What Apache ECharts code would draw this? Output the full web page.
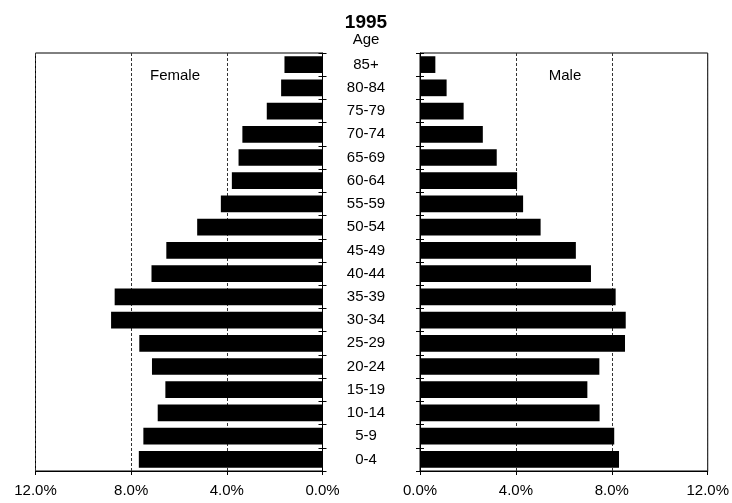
<!DOCTYPE html>
<html>
<head>
<meta charset="utf-8">
<script src="https://cdn.jsdelivr.net/npm/echarts@6/dist/echarts.min.js"></script>
<style>
html,body{margin:0;padding:0;background:#fff;}
#chart{width:732px;height:503px;}
</style>
</head>
<body>
<div id="chart"></div>
<script>
const year = '1995';
const ageGroups = ['0-4','5-9','10-14','15-19','20-24','25-29','30-34','35-39','40-44','45-49','50-54','55-59','60-64','65-69','70-74','75-79','80-84','85+'];
const female = [7.68,7.49,6.89,6.57,7.13,7.66,8.84,8.69,7.15,6.53,5.24,4.25,3.79,3.51,3.35,2.33,1.73,1.59];
const male   = [8.30,8.10,7.49,6.98,7.48,8.55,8.58,8.16,7.13,6.50,5.03,4.30,4.05,3.20,2.62,1.82,1.11,0.64];
const xTicks = [0,4,8,12];

const FONT = 'Liberation Sans, Arial, sans-serif';
const chart = echarts.init(document.getElementById('chart'));

function xAxisCfg(gridIndex, inverse){
  return {
    type:'value', gridIndex, inverse, min:xTicks[0], max:xTicks[xTicks.length-1],
    interval:xTicks[1]-xTicks[0],
    axisLine:{show:true,lineStyle:{color:'#000',width:1}},
    axisTick:{show:true,length:4,lineStyle:{color:'#000'}},
    axisLabel:{color:'#000',fontSize:15,fontFamily:FONT,margin:12,
      formatter:v=>v.toFixed(1)+'%'},
    splitLine:{show:true,lineStyle:{color:'#333',type:[3,2],width:1}}
  };
}
function yAxisCfg(gridIndex, position, showLabel, inside){
  return {
    type:'category', gridIndex, position, data:ageGroups,
    boundaryGap:true,
    axisLine:{show:!inside,lineStyle:{color:'#000',width:1}},
    axisTick:{show:true,inside:inside,length:4,lineStyle:{color:'#000'}},
    axisLabel:{show:showLabel,color:'#000',fontSize:15,fontFamily:FONT,align:'center',margin:54},
    splitLine:{show:false}
  };
}

chart.setOption({
  animation:false,
  backgroundColor:'#fff',
  title:{text:year,left:'center',top:8,textStyle:{fontSize:19,fontWeight:'bold',color:'#000',fontFamily:FONT}},
  graphic:[
    {type:'text',left:'center',top:32,style:{text:'Age',fontSize:15,fill:'#000',fontFamily:FONT}},
    {type:'text',x:175,y:76,style:{text:'Female',fontSize:15,fill:'#000',fontFamily:FONT,align:'center',verticalAlign:'middle'}},
    {type:'text',x:565,y:76,style:{text:'Male',fontSize:15,fill:'#000',fontFamily:FONT,align:'center',verticalAlign:'middle'}}
  ],
  grid:[
    {left:35.5,top:53,width:287,height:418,show:true,borderColor:'#000',borderWidth:1,backgroundColor:'transparent'},
    {left:420,top:53,width:290.5,height:418,show:true,borderColor:'#000',borderWidth:1,backgroundColor:'transparent'}
  ],
  xAxis:[xAxisCfg(0,true), xAxisCfg(1,false)],
  yAxis:[
    yAxisCfg(0,'right',false,false),
    yAxisCfg(1,'left',true,false),
    yAxisCfg(0,'right',false,true),
    yAxisCfg(1,'left',false,true)
  ],
  series:[
    {type:'bar',name:'Female',xAxisIndex:0,yAxisIndex:0,data:female,barCategoryGap:'28%',itemStyle:{color:'#000'},z:3},
    {type:'bar',name:'Male',xAxisIndex:1,yAxisIndex:1,data:male,barCategoryGap:'28%',itemStyle:{color:'#000'},z:3}
  ]
});
</script>
</body>
</html>
